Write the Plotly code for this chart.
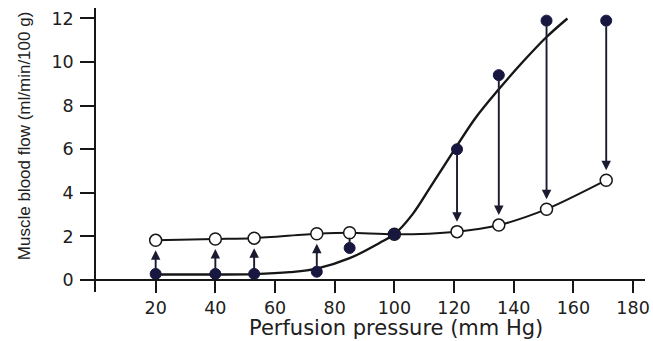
import plotly.graph_objects as go

# perfusion pressure (mm Hg) of each measurement
pressure = [20, 40, 53, 74, 85, 100, 121, 135, 151, 171]
# blood flow before (filled) and after (open) the change
flow_before = [0.28, 0.28, 0.28, 0.38, 1.47, 2.1, 6.0, 9.4, 11.9, 11.9]
flow_after = [1.82, 1.88, 1.92, 2.12, 2.17, 2.1, 2.22, 2.52, 3.25, 4.58]

# smooth curve through the filled points
curve_x = [20, 40, 53, 65, 74, 85, 95, 100, 106, 112, 116, 120, 127, 135, 143, 151, 158]
curve_y = [0.25, 0.25, 0.27, 0.36, 0.52, 1.0, 1.7, 2.1, 3.0, 4.25, 5.1, 5.95, 7.4, 8.75, 10.0, 11.15, 12.0]

x_ticks = [20, 40, 60, 80, 100, 120, 140, 160, 180]
y_ticks = [0, 2, 4, 6, 8, 10, 12]

ink = '#161616'
navy = '#17173f'

fig = go.Figure()

fig.add_trace(go.Scatter(x=curve_x, y=curve_y, mode='lines',
                         line=dict(color=ink, width=2.4, shape='spline', smoothing=1.0),
                         hoverinfo='skip', showlegend=False))
fig.add_trace(go.Scatter(x=pressure, y=flow_after, mode='lines',
                         line=dict(color=ink, width=2, shape='spline', smoothing=0.8),
                         hoverinfo='skip', showlegend=False))

# arrows from the filled point to the open point (a plain stub when they are close)
for px, yb, ya in zip(pressure, flow_before, flow_after):
    if abs(yb - ya) < 0.1:
        continue
    long_gap = abs(yb - ya) > 1
    fig.add_annotation(x=px, y=ya, ax=px, ay=yb, xref='x', yref='y', axref='x', ayref='y',
                       text='', showarrow=True,
                       arrowhead=2 if long_gap else 0,
                       arrowsize=1.0, arrowwidth=1.9, arrowcolor='#1a1a30',
                       standoff=10 if long_gap else 5, startstandoff=4 if long_gap else 2)

fig.add_trace(go.Scatter(x=pressure, y=flow_after, mode='markers',
                         marker=dict(size=12, color='white', line=dict(color=ink, width=1.5)),
                         showlegend=False))
fig.add_trace(go.Scatter(x=pressure, y=flow_before, mode='markers',
                         marker=dict(size=11, color=navy, line=dict(color=navy, width=1)),
                         showlegend=False))

fig.update_layout(
    width=653, height=341,
    margin=dict(l=96, r=8, t=8, b=49),
    paper_bgcolor='white', plot_bgcolor='white',
    font=dict(family='DejaVu Sans', color='#202020'),
    xaxis=dict(range=[0, 184], tickvals=x_ticks, showgrid=False, zeroline=False,
               showline=True, linecolor=ink, linewidth=1.5, automargin=False,
               ticks='outside', ticklen=12, tickwidth=1.5, tickcolor=ink,
               tickfont=dict(size=17.5), anchor='free', position=0.0422),
    yaxis=dict(range=[-0.55, 12.48], tickvals=y_ticks, showgrid=False, zeroline=False,
               showline=True, linecolor=ink, linewidth=1.5, automargin=False,
               ticks='outside', ticklen=14, tickwidth=1.5, tickcolor=ink,
               tickfont=dict(size=17.5), ticklabelstandoff=3),
    annotations=list(fig.layout.annotations) + [
        dict(text='Perfusion pressure (mm Hg)', xref='paper', yref='paper',
             x=0.546, y=-0.127, xanchor='center', yanchor='middle', showarrow=False,
             font=dict(size=21, family='DejaVu Sans', color='#202020')),
        dict(text='Muscle blood flow (ml/min/100 g)', xref='paper', yref='paper',
             x=-0.131, y=0.549, xanchor='center', yanchor='middle', showarrow=False,
             textangle=-90, font=dict(size=17, family='Liberation Sans', color='#202020')),
    ],
)

# drop the page's default body margin so the figure fills the window exactly
fig.write_html("out.html", config={'displayModeBar': False},
               post_script="document.body.style.margin='0';document.body.style.overflow='hidden';")
